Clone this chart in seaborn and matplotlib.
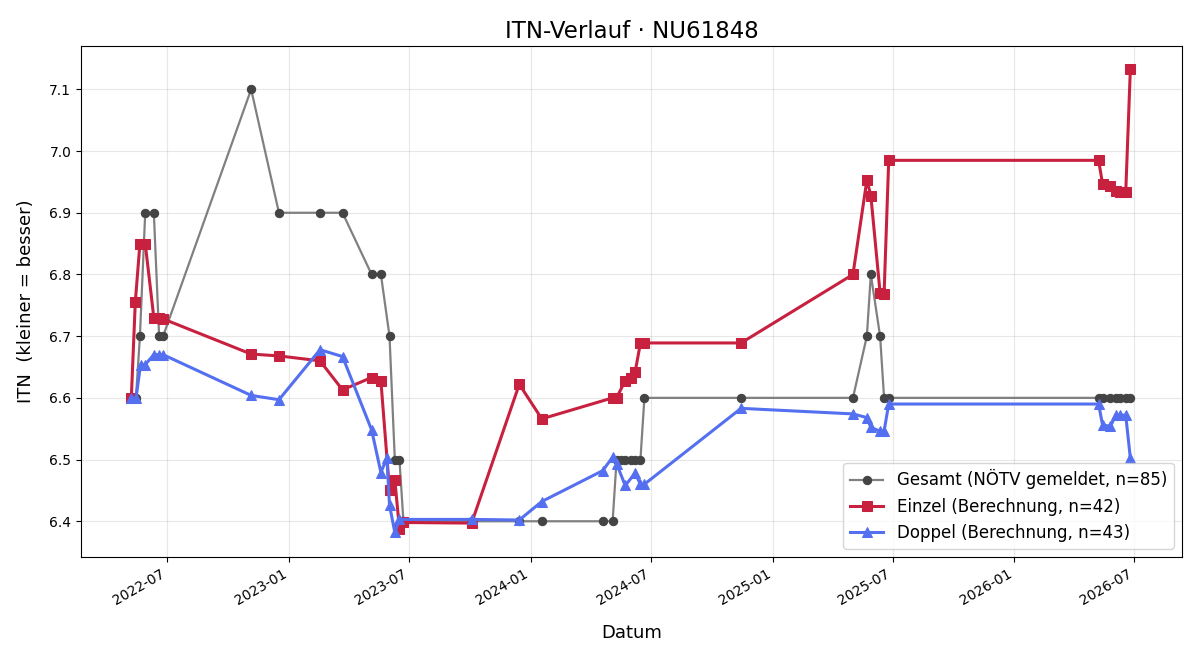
import matplotlib
matplotlib.use("Agg")
import matplotlib.pyplot as plt
import matplotlib.dates as mdates
import pandas as pd
import seaborn as sns

gesamt_dates = ["2022-05-08", "2022-05-15", "2022-05-21", "2022-05-29", "2022-06-11", "2022-06-19",
                "2022-06-25", "2022-11-05", "2022-12-17", "2023-02-17", "2023-03-23", "2023-05-06",
                "2023-05-20", "2023-06-02", "2023-06-10", "2023-06-17", "2023-06-23", "2023-10-04",
                "2023-12-15", "2024-01-18", "2024-04-19", "2024-05-04", "2024-05-10", "2024-05-17",
                "2024-05-23", "2024-05-31", "2024-06-07", "2024-06-15", "2024-06-21", "2024-11-14",
                "2025-05-02", "2025-05-23", "2025-05-29", "2025-06-12", "2025-06-18", "2025-06-25",
                "2026-05-08", "2026-05-14", "2026-05-26", "2026-06-03", "2026-06-10", "2026-06-18",
                "2026-06-25"]
gesamt_vals = [6.6, 6.6, 6.7, 6.9, 6.9, 6.7,
               6.7, 7.1, 6.9, 6.9, 6.9, 6.8,
               6.8, 6.7, 6.5, 6.5, 6.4, 6.4,
               6.4, 6.4, 6.4, 6.4, 6.5, 6.5,
               6.5, 6.5, 6.5, 6.5, 6.6, 6.6,
               6.6, 6.7, 6.8, 6.7, 6.6, 6.6,
               6.6, 6.6, 6.6, 6.6, 6.6, 6.6,
               6.6]

einzel_dates = ["2022-05-08", "2022-05-14", "2022-05-21", "2022-05-29", "2022-06-11", "2022-06-19",
                "2022-06-25", "2022-11-05", "2022-12-17", "2023-02-17", "2023-03-23", "2023-05-06",
                "2023-05-20", "2023-06-02", "2023-06-10", "2023-06-17", "2023-06-23", "2023-10-04",
                "2023-12-15", "2024-01-18", "2024-05-04", "2024-05-10", "2024-05-23", "2024-05-31",
                "2024-06-07", "2024-06-15", "2024-06-21", "2024-11-14", "2025-05-02", "2025-05-23",
                "2025-05-29", "2025-06-12", "2025-06-18", "2025-06-25", "2026-05-08", "2026-05-14",
                "2026-05-26", "2026-06-03", "2026-06-10", "2026-06-18", "2026-06-25"]
einzel_vals = [6.6, 6.755, 6.85, 6.85, 6.73, 6.73,
               6.728, 6.671, 6.668, 6.66, 6.613, 6.633,
               6.627, 6.45, 6.467, 6.388, 6.398, 6.397,
               6.622, 6.566, 6.6, 6.6, 6.628, 6.632,
               6.642, 6.689, 6.689, 6.689, 6.8, 6.953,
               6.928, 6.77, 6.768, 6.985, 6.985, 6.947,
               6.943, 6.935, 6.933, 6.933, 7.133]

doppel_dates = ["2022-05-08", "2022-05-15", "2022-05-22", "2022-05-29", "2022-06-11", "2022-06-19",
                "2022-06-25", "2022-11-05", "2022-12-17", "2023-02-17", "2023-03-23", "2023-05-06",
                "2023-05-20", "2023-05-29", "2023-06-02", "2023-06-10", "2023-06-17", "2023-10-04",
                "2023-12-15", "2024-01-18", "2024-04-19", "2024-05-04", "2024-05-10", "2024-05-23",
                "2024-06-07", "2024-06-15", "2024-06-21", "2024-11-14", "2025-05-02", "2025-05-23",
                "2025-05-29", "2025-06-12", "2025-06-18", "2025-06-25", "2026-05-08", "2026-05-14",
                "2026-05-26", "2026-06-03", "2026-06-10", "2026-06-18", "2026-06-25"]
doppel_vals = [6.6, 6.599, 6.654, 6.654, 6.67, 6.67,
               6.67, 6.604, 6.597, 6.678, 6.667, 6.548,
               6.479, 6.503, 6.426, 6.382, 6.403, 6.403,
               6.402, 6.432, 6.482, 6.504, 6.493, 6.458,
               6.478, 6.46, 6.46, 6.583, 6.574, 6.568,
               6.552, 6.546, 6.546, 6.59, 6.59, 6.556,
               6.554, 6.572, 6.572, 6.572, 6.502]

labels = ["Gesamt (NÖTV gemeldet, n=85)", "Einzel (Berechnung, n=42)", "Doppel (Berechnung, n=43)"]

plt.rcParams['font.family'] = ['DejaVu Sans']

fig, ax = plt.subplots(figsize=(12, 6.6), dpi=100)

df_g = pd.DataFrame({"Datum": pd.to_datetime(gesamt_dates), "ITN": gesamt_vals})
df_e = pd.DataFrame({"Datum": pd.to_datetime(einzel_dates), "ITN": einzel_vals})
df_d = pd.DataFrame({"Datum": pd.to_datetime(doppel_dates), "ITN": doppel_vals})

sns.lineplot(data=df_g, x="Datum", y="ITN", ax=ax, color="#808080", linewidth=1.6,
             marker="o", markersize=6, markerfacecolor="#444444", markeredgecolor="#444444",
             sort=False, label=labels[0])
sns.lineplot(data=df_e, x="Datum", y="ITN", ax=ax, color="#c8203f", linewidth=2.2,
             marker="s", markersize=7, markerfacecolor="#c8203f", markeredgecolor="#c8203f",
             sort=False, label=labels[1])
sns.lineplot(data=df_d, x="Datum", y="ITN", ax=ax, color="#5470f0", linewidth=2.2,
             marker="^", markersize=7, markerfacecolor="#5470f0", markeredgecolor="#5470f0",
             sort=False, label=labels[2])

ax.grid(True, color="#b0b0b0", linewidth=0.8, alpha=0.3)
ax.tick_params(axis="both", which="both", labelsize=10)

ax.xaxis.set_major_locator(mdates.MonthLocator(bymonth=[1, 7]))
ax.xaxis.set_major_formatter(mdates.DateFormatter("%Y-%m"))
ax.set_xlim(pd.Timestamp("2022-02-21"), pd.Timestamp("2026-09-11"))
ax.set_ylim(6.342, 7.17)
ax.set_yticks([6.4, 6.5, 6.6, 6.7, 6.8, 6.9, 7.0, 7.1])
ax.set_yticklabels(["6.4", "6.5", "6.6", "6.7", "6.8", "6.9", "7.0", "7.1"])
for lbl in ax.get_xticklabels():
    lbl.set_rotation(30)
    lbl.set_ha("right")

ax.set_title("ITN-Verlauf · NU61848", fontsize=16.5)
ax.set_xlabel("Datum", fontsize=13, labelpad=12)
ax.set_ylabel("ITN  (kleiner = besser)", fontsize=13, labelpad=10)
ax.legend(loc="lower right", fontsize=12, frameon=True)

fig.subplots_adjust(left=0.0675, right=0.985, top=0.930, bottom=0.156)
fig.savefig("out.png", dpi=100)
